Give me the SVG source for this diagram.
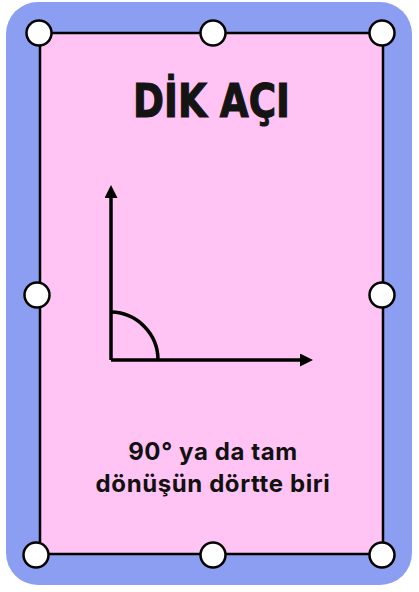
<svg xmlns="http://www.w3.org/2000/svg" width="419" height="592" viewBox="0 0 419 592">
<defs>
<style>
.dot{fill:#fff;stroke:#000;stroke-width:2.5}
.ln{stroke:#000;stroke-width:3.5;fill:none}
.title{font-family:"DejaVu Sans","Liberation Sans",sans-serif;font-weight:900;font-size:46px;fill:#141414;stroke:#141414;stroke-width:1.2px}
.body{font-family:Inter,"Noto Sans",sans-serif;font-weight:700;font-size:24px;fill:#111;letter-spacing:0.6px}
</style>
<marker id="ah" markerWidth="13" markerHeight="13" refX="4" refY="6.5" orient="auto" markerUnits="userSpaceOnUse">
<path d="M0,0 L13,6.5 L0,13 Z" fill="#000"/>
</marker>
</defs>
<rect x="6" y="2" width="406" height="583" rx="32" fill="#8C9EF2"/>
<rect id="card" x="40" y="33" width="343" height="521" fill="#FFC4F4" stroke="#000" stroke-width="2.5"/>
<g id="title"><text class="title" x="133" y="117" textLength="157" lengthAdjust="spacingAndGlyphs">DİK AÇI</text></g>
<g id="connectors">
<line class="ln" x1="111" y1="360" x2="111" y2="194" marker-end="url(#ah)"/>
<line class="ln" x1="111" y1="360" x2="304" y2="360" marker-end="url(#ah)"/>
<path class="ln" d="M111,312 A48,48 0 0 1 158,360" stroke-width="3"/>
</g>
<g id="caption">
<text class="body" x="213" y="460" text-anchor="middle">90° ya da tam</text>
<text class="body" x="213" y="492" text-anchor="middle">dönüşün dörtte biri</text>
</g>
<g id="handles">
<circle class="dot" cx="39" cy="33" r="12.5"/>
<circle class="dot" cx="213" cy="33" r="12.5"/>
<circle class="dot" cx="382" cy="33" r="12.5"/>
<circle class="dot" cx="37" cy="295" r="12.5"/>
<circle class="dot" cx="382" cy="295" r="12.5"/>
<circle class="dot" cx="36" cy="555" r="12.5"/>
<circle class="dot" cx="213" cy="555" r="12.5"/>
<circle class="dot" cx="382" cy="555" r="12.5"/>
</g>
</svg>
